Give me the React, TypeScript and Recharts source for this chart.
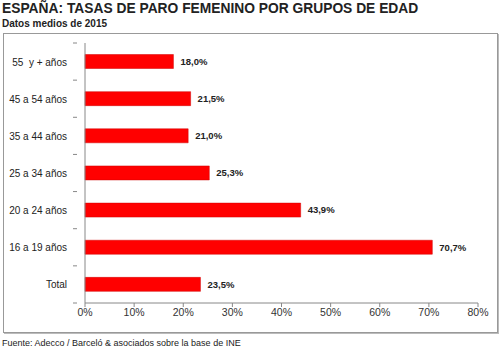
import { BarChart, Bar, XAxis, YAxis, LabelList } from 'recharts';

const grupos = ['55\u00a0\u00a0y + años', '45 a 54 años', '35 a 44 años', '25 a 34 años', '20 a 24 años', '16 a 19 años', 'Total'];
const tasas = [18.0, 21.5, 21.0, 25.3, 43.9, 70.7, 23.5];
const ticksX = [0, 10, 20, 30, 40, 50, 60, 70, 80];

const data = grupos.map((g, i) => ({ grupo: g, tasa: tasas[i] }));

const font = '"Liberation Sans", Arial, sans-serif';

const fmt = (v: any) => `${Number(v).toFixed(1).replace('.', ',')}%`;

// label at band centre plus a small tick at the band's lower boundary
const GroupTick = ({ x, y, payload, index }: any) => {
  const step = 260 / grupos.length;
  return (
    <g>
      <text x={x - 10} y={y} dy={4} textAnchor="end" fontSize={10} fill="#222" fontFamily={font}>
        {payload.value}
      </text>
      {index === 0 && <line x1={x - 4} x2={x} y1={y - step / 2} y2={y - step / 2} stroke="#888" />}
      <line x1={x - 4} x2={x} y1={y + step / 2} y2={y + step / 2} stroke="#888" />
    </g>
  );
};

export default function App() {
  return (
    <div style={{ position: 'absolute', left: 0, top: 0, width: 500, height: 352, background: '#fff', fontFamily: font }}>
      <div style={{ position: 'absolute', left: 2, top: 1, fontSize: 13.8, fontWeight: 'bold', color: '#222', whiteSpace: 'nowrap' }}>
        ESPAÑA: TASAS DE PARO FEMENINO POR GRUPOS DE EDAD
      </div>
      <div style={{ position: 'absolute', left: 2, top: 18, fontSize: 10, fontWeight: 'bold', color: '#222', whiteSpace: 'nowrap' }}>
        Datos medios de 2015
      </div>
      <div style={{ position: 'absolute', left: 3, top: 33, width: 493, height: 298, border: '1px solid #999', boxShadow: '1px 1px 0 #bbb' }} />
      <div style={{ position: 'absolute', left: 0, top: 0 }}>
        <BarChart width={500} height={352} data={data} layout="vertical" barCategoryGap="31%" margin={{ top: 43, right: 22, bottom: 27, left: 5 }}>
          <XAxis
            type="number"
            domain={[0, 80]}
            ticks={ticksX}
            tickFormatter={(v) => `${v}%`}
            tick={{ fill: '#333', fontSize: 10.5, fontFamily: font }}
            axisLine={{ stroke: '#888' }}
            tickLine={{ stroke: '#888' }}
            tickSize={4}
            height={22}
            interval={0}
          />
          <YAxis
            type="category"
            dataKey="grupo"
            width={80}
            axisLine={{ stroke: '#888' }}
            tickLine={false}
            tick={<GroupTick />}
            interval={0}
          />
          <Bar dataKey="tasa" fill="#ff0000" stroke="#d00000" strokeWidth={0.5} isAnimationActive={false}>
            <LabelList dataKey="tasa" position="right" offset={7} formatter={fmt} style={{ fontSize: 9.5, fontWeight: 'bold', fill: '#222', fontFamily: font }} />
          </Bar>
        </BarChart>
      </div>
      <div style={{ position: 'absolute', left: 2, top: 338, fontSize: 9, color: '#222', whiteSpace: 'nowrap' }}>
        Fuente: Adecco / Barceló &amp; asociados sobre la base de INE
      </div>
    </div>
  );
}
